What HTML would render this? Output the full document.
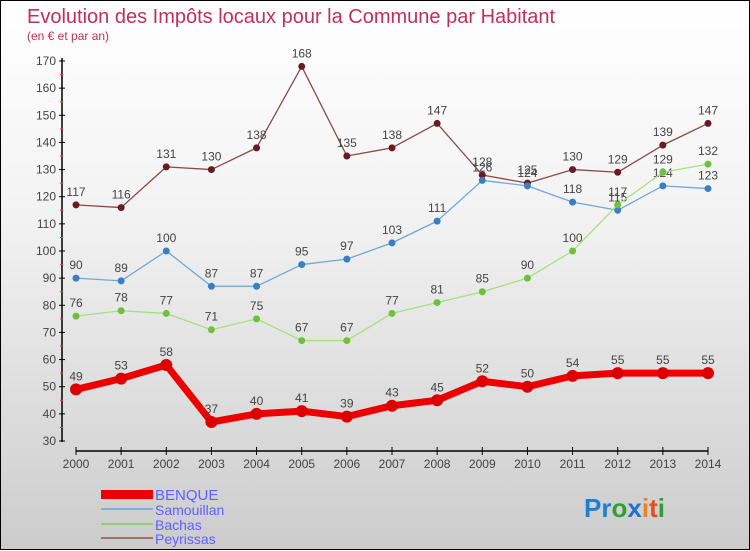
<!DOCTYPE html>
<html><head><meta charset="utf-8"><style>
body{margin:0;width:750px;height:550px;overflow:hidden;font-family:"Liberation Sans",sans-serif}
#wrap{position:relative;width:748px;height:548px;border:1px solid #000;background:linear-gradient(#ffffff,#f2f2f2 40%,#cccccc)}
svg{position:absolute;left:0;top:0}
</style></head><body>
<div id="wrap">
<svg id="chart" width="750" height="550">
<text x="26" y="22" font-size="20" fill="#c0305a">Evolution des Impôts locaux pour la Commune par Habitant</text>
<text x="26" y="39" font-size="12" fill="#c0305a">(en € et par an)</text>
<g id="axes"></g><g id="series"></g>
<g>
<rect x="100" y="489" width="52" height="9" fill="#e00"/>
<text x="154" y="499" font-size="15" fill="#6060ff">BENQUE</text>
<line x1="100" x2="152" y1="508" y2="508" stroke="#80b0d8" stroke-width="2"/>
<text x="154" y="514" font-size="14" fill="#6060ff">Samouillan</text>
<line x1="100" x2="152" y1="523" y2="523" stroke="#90d070" stroke-width="2"/>
<text x="154" y="529" font-size="14" fill="#6060ff">Bachas</text>
<line x1="100" x2="152" y1="537" y2="537" stroke="#a07070" stroke-width="2"/>
<text x="154" y="543" font-size="14" fill="#6060ff">Peyrissas</text>
</g>
<text x="583" y="516" font-size="26" font-weight="bold"><tspan fill="#2080d0">Pr</tspan><tspan fill="#30a030">o</tspan><tspan fill="#2070d0">x</tspan><tspan fill="#f08020">i</tspan><tspan fill="#e05020">t</tspan><tspan fill="#30a030">i</tspan></text>
</svg>
</div>
<script>
const years=[2000,2001,2002,2003,2004,2005,2006,2007,2008,2009,2010,2011,2012,2013,2014];
const benque=[49,53,58,37,40,41,39,43,45,52,50,54,55,55,55];
const samouillan=[90,89,100,87,87,95,97,103,111,126,124,118,115,124,123];
const bachas=[76,78,77,71,75,67,67,77,81,85,90,100,117,129,132];
const peyrissas=[117,116,131,130,138,168,135,138,147,128,125,130,129,139,147];
const yTicks=[30,40,50,60,70,80,90,100,110,120,130,140,150,160,170];
const NS="http://www.w3.org/2000/svg";
const xs=i=>75+i*(707-75)/14;
const ys=v=>440-(v-30)*(380/140);
function mk(tag,attrs,parent){const e=document.createElementNS(NS,tag);for(const k in attrs)e.setAttribute(k,attrs[k]);parent.appendChild(e);return e;}
const ax=document.getElementById('axes');
let l=mk('line',{x1:61,x2:61,y1:57,y2:441,stroke:'#000','stroke-width':1.5},ax);


yTicks.forEach(v=>{
 mk('line',{x1:58,x2:64,y1:ys(v),y2:ys(v),stroke:'#000'},ax);
 if(v<170) mk('line',{x1:59,x2:62,y1:ys(v+5),y2:ys(v+5),stroke:'#f33'},ax);
 const t=mk('text',{x:55,y:ys(v)+4,'font-size':12,fill:'#444','text-anchor':'end'},ax);t.textContent=v;
 
 
});
l=mk('line',{x1:75,x2:707,y1:450,y2:450,stroke:'#000','stroke-width':1.5},ax);


years.forEach((y,i)=>{
 mk('line',{x1:xs(i),x2:xs(i),y1:446,y2:454,stroke:'#000'},ax);
 const t=mk('text',{x:xs(i),y:467,'font-size':12,fill:'#444','text-anchor':'middle'},ax);t.textContent=y;
 
 
});
const sg=document.getElementById('series');
function series(data,name,color,dot,w,r){
 const g=mk('g',{},sg);
 
 
 const p=mk('polyline',{points:data.map((v,i)=>xs(i)+','+ys(v)).join(' '),fill:'none',stroke:color,'stroke-width':w,'stroke-linejoin':'round'},g);
 
 
 data.forEach((v,i)=>{
  const c=mk('circle',{cx:xs(i),cy:ys(v),r:r,fill:dot},g);
  
  
  const t=mk('text',{x:xs(i),y:ys(v)-9,'font-size':12,fill:'#444','text-anchor':'middle'},g);t.textContent=v;
  
  
 });
}
series(peyrissas,'peyrissas','#8a4a4a','#6a1a20',1.3,3.5);
series(samouillan,'samouillan','#6fa8d8','#3a80c0',1.3,3.5);
series(bachas,'bachas','#a8e080','#70c040',1.3,3.5);
series(benque,'benque','#ee0000','#dd0000',7,6);
</script>
</body></html>
